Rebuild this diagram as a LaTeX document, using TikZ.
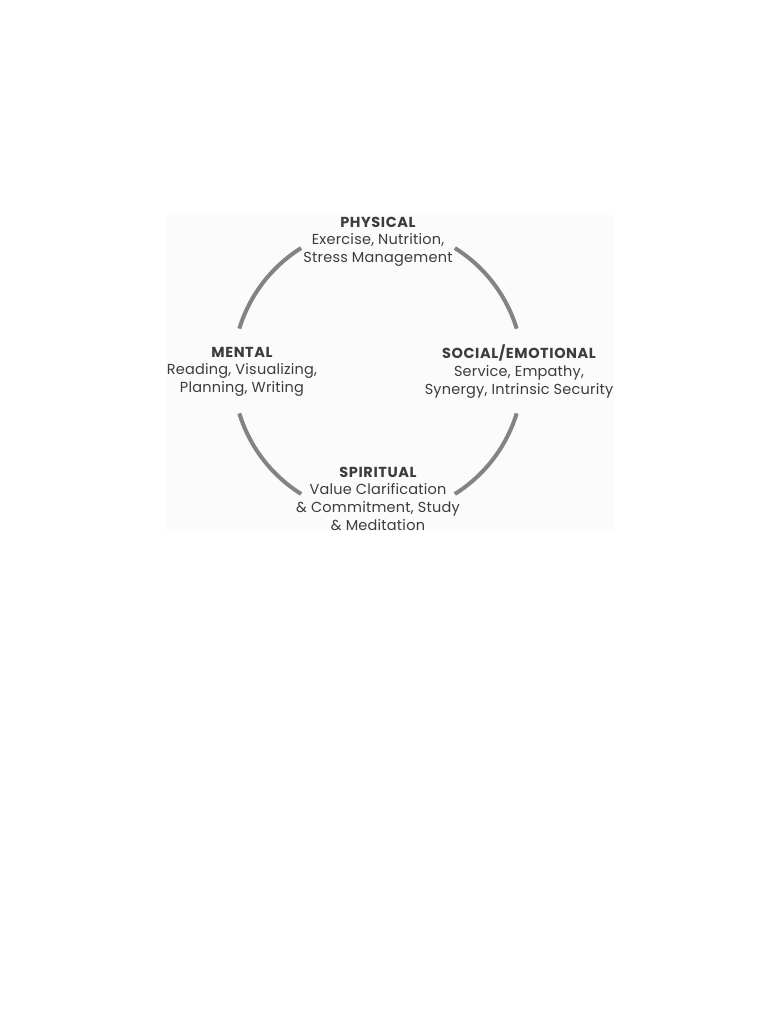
\documentclass[tikz,border=0pt]{standalone}
\usepackage{fontspec}
\setmainfont{Poppins}[LetterSpace=1.5]
\newcommand{\areatitle}[1]{{\bfseries\addfontfeature{LetterSpace=4}#1}}
\begin{document}
\begin{tikzpicture}[x=1pt,y=-1pt,
  ring/.style={draw=ringgray,line width=4pt},
  area/.style={align=center,inner sep=0pt,text=inkgray,anchor=north,
    font=\fontsize{14.5}{17.8}\selectfont},
]
\definecolor{ringgray}{HTML}{838383}
\definecolor{inkgray}{HTML}{3C3C3C}
\definecolor{panel}{HTML}{FBFBFB}
\useasboundingbox (0,0) rectangle (782,1012);
\fill[panel] (166,215) rectangle (614,531);
\coordinate (c) at (378,371);
% four arcs of one ring, broken where the labels sit
\foreach \a/\b in {17/58, 122/163, 197/238, 302/343}
  \draw[ring] ([shift={(\a:145)}]c) arc[start angle=\a,end angle=\b,radius=145];
% first line carries a strut so every block hangs from the same baseline offset
\node[area] (physical) at (378,214.5) {\strut\areatitle{PHYSICAL}\\Exercise, Nutrition,\\Stress Management};
\node[area] (mental) at (242,344.5) {\strut\areatitle{MENTAL}\\Reading, Visualizing,\\Planning, Writing};
\node[area] (social) at (519,344.5) {\strut\areatitle{SOCIAL/EMOTIONAL}\\Service, Empathy,\\Synergy, Intrinsic Security};
\node[area] (spiritual) at (378,464.5) {\strut\areatitle{SPIRITUAL}\\Value Clarification\\\& Commitment, Study\\\& Meditation};
\end{tikzpicture}
\end{document}
